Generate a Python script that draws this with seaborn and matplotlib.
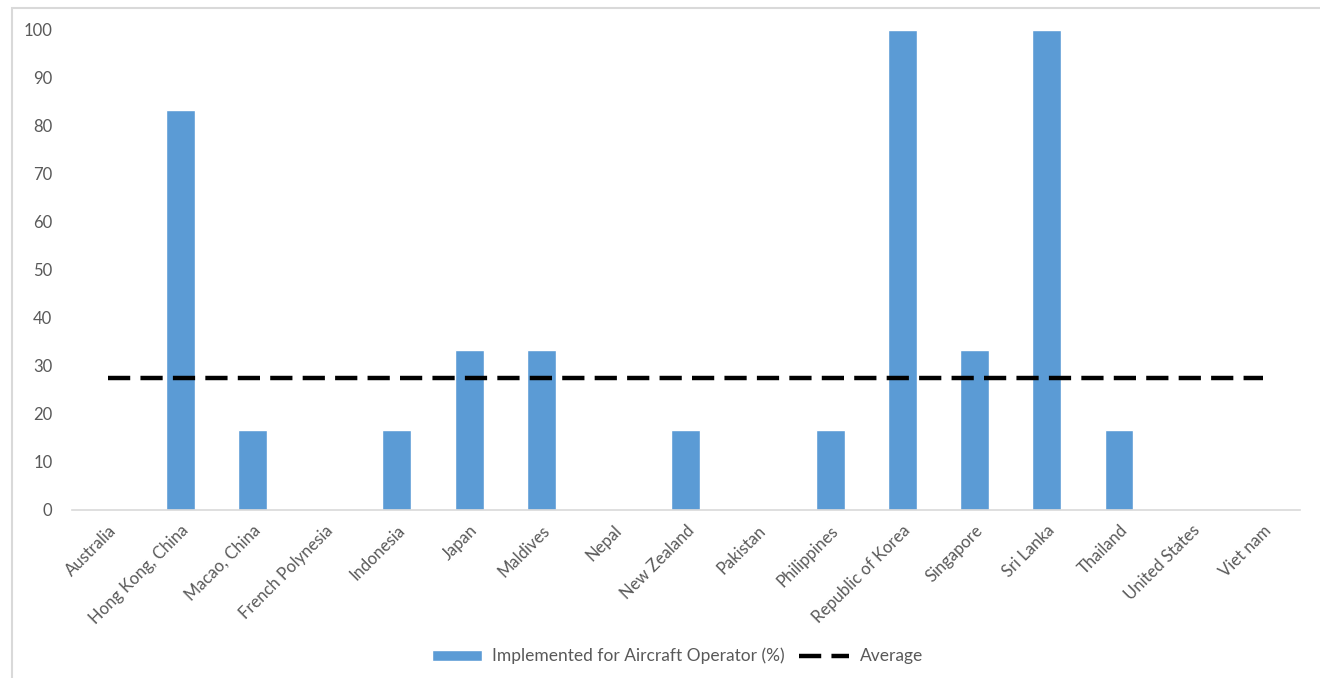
import pandas as pd
import matplotlib
matplotlib.use("Agg")
import matplotlib.pyplot as plt
import seaborn as sns
from matplotlib.patches import Rectangle

countries = ["Australia", "Hong Kong, China", "Macao, China", "French Polynesia",
             "Indonesia", "Japan", "Maldives", "Nepal", "New Zealand", "Pakistan",
             "Philippines", "Republic of Korea", "Singapore", "Sri Lanka",
             "Thailand", "United States", "Viet nam"]
implemented = [0, 83.3, 16.7, 0, 16.7, 33.3, 33.3, 0, 16.7, 0,
               16.7, 100, 33.3, 100, 16.7, 0, 0]
average = [27.5] * len(countries)

df = pd.DataFrame({"country": countries, "implemented": implemented, "average": average})

sns.set_style("white")
plt.rcParams["font.family"] = ["Lato", "DejaVu Sans"]

fig = plt.figure(figsize=(13.2, 6.78), dpi=100)
ax = fig.add_axes([0.0545, 0.248, 0.93, 0.708])

sns.barplot(data=df, x="country", y="implemented", color="#5B9BD5", width=0.4,
            saturation=1, ax=ax, label="Implemented for Aircraft Operator (%)")
sns.lineplot(data=df, x="country", y="average", color="black", linewidth=3.2,
             ax=ax, label="Average", sort=False)
ax.lines[-1].set_dashes([5, 2.3])
ax.lines[-1].set_solid_capstyle("butt")

ax.set_ylim(0, 100)
ax.set_xlim(-0.5, len(countries) - 0.5)
ax.set_yticks(range(0, 101, 10))
ax.set_xlabel("")
ax.set_ylabel("")
for s in ["top", "right", "left"]:
    ax.spines[s].set_visible(False)
ax.spines["bottom"].set_color("#D9D9D9")
ax.spines["bottom"].set_linewidth(1.2)
ax.tick_params(axis="y", length=0, labelsize=12, labelcolor="#595959", pad=14)
ax.tick_params(axis="x", length=0, labelsize=12, labelcolor="#595959", pad=9)
plt.setp(ax.get_xticklabels(), rotation=45, ha="right", rotation_mode="anchor")

handles, labels = ax.get_legend_handles_labels()
order = [labels.index("Implemented for Aircraft Operator (%)"), labels.index("Average")]
ax.legend([handles[i] for i in order], [labels[i] for i in order],
          loc="upper center", bbox_to_anchor=(0.493, -0.255), ncol=2, frameon=False,
          fontsize=12.5, labelcolor="#595959", handlelength=2.9, handleheight=0.6,
          columnspacing=0.8, handletextpad=0.6)

fig.patches.append(Rectangle((12 / 1320, -0.1), 1.2, 1 - 8 / 678 + 0.1,
                             transform=fig.transFigure, fill=False,
                             edgecolor="#D9D9D9", linewidth=1.5))

fig.savefig("out.png", dpi=100)
